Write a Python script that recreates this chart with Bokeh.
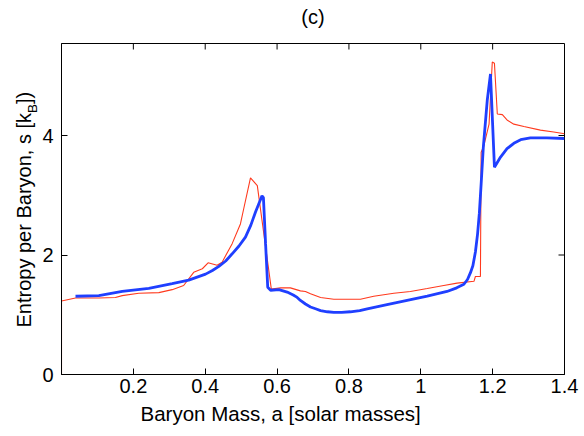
import math
from bokeh.plotting import figure
from bokeh.models import FixedTicker, PrintfTickFormatter, Range1d, Label, Title
from bokeh.embed import file_html
from bokeh.resources import INLINE

# ---------------- data ----------------
red_mass = [0.0, 0.0, 0.039, 0.104, 0.150, 0.169, 0.215, 0.271, 0.308, 0.340,
            0.368, 0.392, 0.408, 0.433, 0.447, 0.475, 0.498, 0.507, 0.526, 0.545,
            0.584, 0.610, 0.637, 0.665, 0.679, 0.693, 0.721, 0.758, 0.832, 0.869,
            0.925, 0.971, 1.018, 1.064, 1.101, 1.148, 1.152, 1.166, 1.168, 1.175,
            1.190, 1.199, 1.205, 1.213, 1.227, 1.240, 1.259, 1.287, 1.333, 1.370,
            1.400]
red_entropy = [0.0, 1.23, 1.28, 1.28, 1.29, 1.32, 1.36, 1.37, 1.42, 1.49,
               1.71, 1.77, 1.87, 1.83, 1.88, 2.19, 2.52, 2.77, 3.29, 3.16,
               1.43, 1.45, 1.45, 1.40, 1.39, 1.35, 1.29, 1.26, 1.26, 1.31,
               1.36, 1.39, 1.44, 1.49, 1.53, 1.56, 1.64, 1.64, 3.72, 3.82,
               4.19, 5.23, 5.21, 4.36, 4.35, 4.26, 4.19, 4.15, 4.09, 4.06,
               4.03]

blue_mass = [0.039, 0.104, 0.169, 0.243, 0.308, 0.354, 0.401, 0.420, 0.438, 0.457,
             0.475, 0.494, 0.512, 0.527, 0.540, 0.552, 0.558, 0.562, 0.568, 0.574,
             0.582, 0.605, 0.628, 0.645, 0.656, 0.665, 0.679, 0.693, 0.707, 0.721,
             0.740, 0.758, 0.780, 0.804, 0.830, 0.851, 0.906, 0.962, 1.018, 1.073,
             1.100, 1.120, 1.130, 1.138, 1.145, 1.152, 1.158, 1.163, 1.168, 1.174,
             1.185, 1.194, 1.205, 1.222, 1.240, 1.259, 1.278, 1.305, 1.351, 1.400]
blue_entropy = [1.31, 1.32, 1.39, 1.44, 1.52, 1.58, 1.68, 1.74, 1.81, 1.90,
                2.02, 2.15, 2.30, 2.50, 2.72, 2.90, 2.99, 2.96, 2.19, 1.46,
                1.41, 1.42, 1.38, 1.33, 1.29, 1.24, 1.18, 1.13, 1.10, 1.07,
                1.05, 1.04, 1.04, 1.05, 1.07, 1.10, 1.17, 1.24, 1.31, 1.39,
                1.45, 1.51, 1.59, 1.70, 1.82, 2.05, 2.35, 2.70, 3.19, 3.80,
                4.59, 5.03, 3.47, 3.64, 3.78, 3.87, 3.93, 3.96, 3.96, 3.95]

x_ticks = [0.2, 0.4, 0.6, 0.8, 1.0, 1.2, 1.4]
y_ticks = [0, 2, 4]
title_text = "(c)"
x_label = "Baryon Mass, a [solar masses]"
y_label_main = "Entropy per Baryon, s [k"
y_label_sub = "B"
y_label_end = "])"

# ---------------- figure ----------------
X0, X1 = 0.0, 1.4
Y0, Y1 = 0.0, 5.54
W, H = 584, 436
ML, MR, MT, MB = 61, 20, 43, 62
FW, FH = W - ML - MR, H - MT - MB
SX = FW / (X1 - X0)
SY = FH / (Y1 - Y0)
FONT = "Liberation Sans"

p = figure(width=W, height=H, x_range=Range1d(X0, X1), y_range=Range1d(Y0, Y1),
           output_backend="svg", toolbar_location=None, title=title_text,
           min_border_left=ML, min_border_right=MR, min_border_top=MT,
           min_border_bottom=MB)
p.grid.visible = False
p.outline_line_color = "black"
p.outline_line_width = 1
p.background_fill_color = "white"
p.border_fill_color = "white"

p.title.align = "center"
p.title.text_font = FONT
p.title.text_font_size = "20px"
p.title.text_font_style = "normal"
p.title.text_color = "black"
p.title.standoff = 7

def style_axis(ax, ticks, standoff):
    ax.ticker = FixedTicker(ticks=ticks)
    ax.formatter = PrintfTickFormatter(format="%g")
    ax.major_tick_in = 6
    ax.major_tick_out = 0
    ax.minor_tick_line_color = None
    ax.axis_line_color = "black"
    ax.major_tick_line_color = "black"
    ax.major_label_text_font = FONT
    ax.major_label_text_color = "black"
    ax.major_label_standoff = standoff
    ax.major_label_text_font_size = "20px"

style_axis(p.xaxis[0], x_ticks, 4)
style_axis(p.yaxis[0], y_ticks, 8)

# inward ticks on the top and right edges of the box
p.ray(x=x_ticks, y=[Y1] * len(x_ticks), length=6, length_units="screen",
      angle=-math.pi / 2, line_color="black", line_width=1)
p.ray(x=[X1] * len(y_ticks), y=y_ticks, length=6, length_units="screen",
      angle=math.pi, line_color="black", line_width=1)

p.line(red_mass, red_entropy, line_color="#ff3a1e", line_width=1.1)
p.line(blue_mass, blue_entropy, line_color="#1f3fff", line_width=2.8)

# x axis label (starts at x=140 px like the reference, not centred)
p.add_layout(Title(text=x_label, align="left", offset=140 - ML,
                   text_font=FONT, text_font_size="20.5px",
                   text_font_style="normal", text_color="black", standoff=9),
             "below")

# y axis label with subscript B, drawn as three rotated pieces
w_main = 10.727 * 20      # width of main piece in px (Arial metrics)
w_sub = 0.667 * 13.5
base_x = X0 - 38 / SX
start_y = Y0 + 47 / SY
rot = math.pi / 2
pieces = [(y_label_main, 0, 0, "20px", "left"),
          (y_label_sub, 9, w_main, "13.5px", "right"),
          (y_label_end, 0, w_main + w_sub, "20px", "above")]
for txt, dx, dy, size, panel in pieces:
    p.add_layout(Label(x=base_x + dx / SX, y=start_y + dy / SY, text=txt,
                       angle=rot, text_align="left", text_baseline="alphabetic",
                       text_font=FONT, text_font_size=size,
                       text_color="black"), panel)

open("out.html", "w").write(file_html(p, INLINE))
